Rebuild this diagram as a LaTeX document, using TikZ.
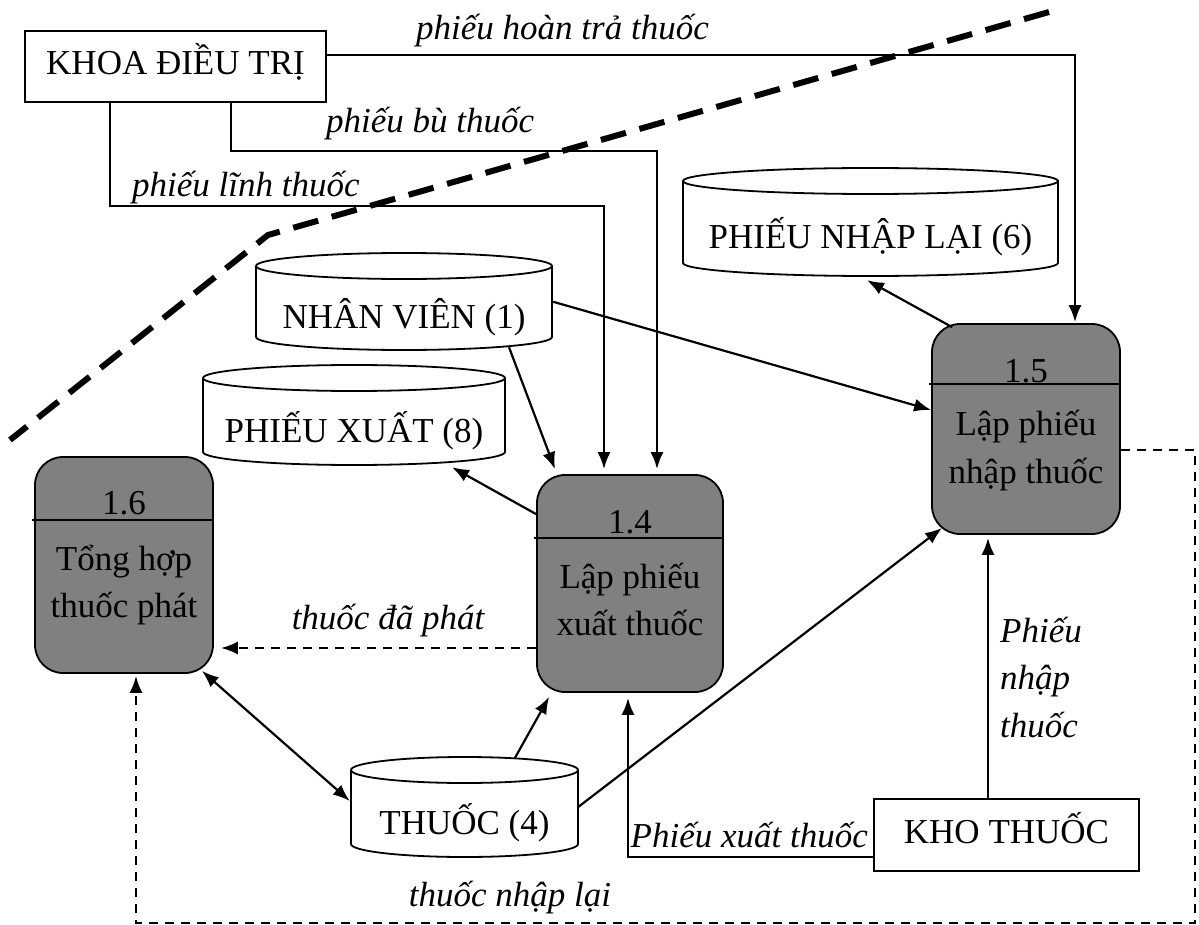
\documentclass[tikz,border=0pt]{standalone}
\usepackage{fontspec}
\setmainfont{Liberation Serif}
\usetikzlibrary{arrows.meta}
\definecolor{procgray}{RGB}{128,128,128}

% half height of the ellipses that close a data store
\newcommand\dse{13}
% data store: name, left, right, top, bottom, text
\newcommand\datastore[6]{%
  \pgfmathsetmacro\dsx{(#2+#3)/2}%
  \pgfmathsetmacro\dsr{(#3-#2)/2}%
  \pgfmathsetmacro\dsy{-(#4+#5)/2}%
  \pgfmathsetmacro\dst{-(#4+2*\dse+#5)/2-14}%
  \draw[storeline] (\dsx,-#4-\dse) ellipse [x radius=\dsr, y radius=\dse];
  \draw[storeline] (#2,-#4-\dse) -- (#2,-#5+\dse)
     arc [start angle=180, end angle=360, x radius=\dsr, y radius=\dse]
     -- (#3,-#4-\dse);
  \node[inner sep=0, minimum width=#3-#2, minimum height=#5-#4] (#1) at (\dsx,\dsy) {};
  \node[anchor=base] at (\dsx,\dst) {#6};
}

\begin{document}
\begin{tikzpicture}[x=1pt,y=1pt,
  every node/.style={font=\fontsize{35}{47}\selectfont},
  lbl/.style={font=\fontsize{35}{47}\selectfont\itshape, inner sep=0},
  conn/.style={line width=2.2pt},
  arr/.style={conn,-{Latex[length=17pt,width=13pt]}},
  dblarr/.style={conn,{Latex[length=17pt,width=13pt]}-{Latex[length=17pt,width=13pt]}},
  dsh/.style={dash pattern=on 9pt off 7pt},
  extent/.style={draw,line width=1.8pt,inner sep=0},
  proc/.style={draw,line width=1.8pt,fill=procgray,rounded corners=28pt,inner sep=0},
  divider/.style={line width=1.8pt},
  boundary/.style={line width=6pt,dash pattern=on 26pt off 14pt},
  storeline/.style={line width=1.8pt}
]
\useasboundingbox (0,0) rectangle (1199,-925);
\fill[white] (0,0) rectangle (1199,-925);

% system boundary
\draw[boundary] (1049,-12) -- (268,-235) -- (10,-440);

% external entities
\node[extent, minimum width=301pt, minimum height=71pt] (khoa) at (175.5,-66.5) {};
\node[anchor=base] at (175.5,-75) {KHOA ĐIỀU TRỊ};
\node[extent, minimum width=265pt, minimum height=72pt] (kho) at (1006.5,-835) {};
\node[anchor=base] at (1006.5,-843) {KHO THUỐC};

% data stores
\datastore{pnl}{683}{1058}{168}{276}{PHIẾU NHẬP LẠI (6)}
\datastore{nv}{256}{552}{253}{350}{NHÂN VIÊN (1)}
\datastore{px}{203}{505}{365}{465}{PHIẾU XUẤT (8)}
\datastore{th}{351}{578}{757}{857}{THUỐC (4)}

% processes
\node[proc, minimum width=178pt, minimum height=216pt] (p16) at (124,-565) {};
\draw[divider] (32,-520) -- (213,-520);
\node[anchor=base] at (124,-514) {1.6};
\node[anchor=base] at (124,-570) {Tổng hợp};
\node[anchor=base] at (124,-617) {thuốc phát};

\node[proc, minimum width=186pt, minimum height=217pt] (p14) at (630,-583.5) {};
\draw[divider] (534,-538) -- (723,-538);
\node[anchor=base] at (630,-533) {1.4};
\node[anchor=base] at (630,-588) {Lập phiếu};
\node[anchor=base] at (630,-635) {xuất thuốc};

\node[proc, minimum width=188pt, minimum height=210pt] (p15) at (1026,-429) {};
\draw[divider] (929,-384) -- (1120,-384);
\node[anchor=base] at (1026,-382) {1.5};
\node[anchor=base] at (1026,-435) {Lập phiếu};
\node[anchor=base] at (1026,-483) {nhập thuốc};

% flows from KHOA ĐIỀU TRỊ
\draw[arr] ([yshift=11.5]khoa.east) -| ([xshift=49,yshift=1]p15.north);
\node[lbl, anchor=base east] at (709,-40) {phiếu hoàn trả thuốc};
\draw[arr] ([xshift=55.5]khoa.south) -- ++(0,-48) -| ([xshift=27,yshift=5]p14.north);
\node[lbl, anchor=base west] at (326,-133) {phiếu bù thuốc};
\draw[arr] ([xshift=-65.5]khoa.south) -- ++(0,-103) -| ([xshift=-26,yshift=5]p14.north);
\node[lbl, anchor=base west] at (132,-197) {phiếu lĩnh thuốc};

% flows between stores and processes
\draw[arr] (nv.east) -- ([yshift=19]p15.west);
\draw[arr] ([xshift=105,yshift=3]nv.south) -- ([xshift=-75,yshift=5]p14.north);
\draw[arr] ([yshift=-40]p14.north west) -- ([xshift=98,yshift=-2]px.south);
\draw[arr] ([xshift=21,yshift=-4]p15.north west) -- ([xshift=-3.5,yshift=-4]pnl.south);
\draw[arr,dsh] ([yshift=-64.5]p14.west) -- ([xshift=7,yshift=-83]p16.east);
\node[lbl, anchor=base] at (388,-629) {thuốc đã phát};
\draw[dblarr] ([xshift=-12,yshift=3]p16.south east) -- ([xshift=-1,yshift=6]th.west);
\draw[arr] ([xshift=50.5,yshift=-1]th.north) -- ([xshift=13,yshift=-4]p14.south west);
\draw[arr] (th.east) -- ([xshift=11,yshift=7]p15.south west);

% flows from KHO THUỐC
\draw[arr] ([xshift=-18.5]kho.north) -- ([xshift=-38,yshift=-3]p15.south);
\node[lbl, anchor=base west] at (1000,-642) {Phiếu};
\node[lbl, anchor=base west] at (1000,-689) {nhập};
\node[lbl, anchor=base west] at (1000,-737) {thuốc};
\draw[arr] ([yshift=-22]kho.west) -| ([xshift=-2,yshift=-5]p14.south);
\node[lbl, anchor=base east] at (868,-847) {Phiếu xuất thuốc};

% returned medicine back to 1.6
\coordinate (rcorner) at (1195,-923);
\draw[arr,dsh] ([yshift=-21]p15.east) -| (rcorner) -| ([xshift=12,yshift=-2]p16.south);
\node[lbl, anchor=base] at (510,-906) {thuốc nhập lại};
\end{tikzpicture}
\end{document}
